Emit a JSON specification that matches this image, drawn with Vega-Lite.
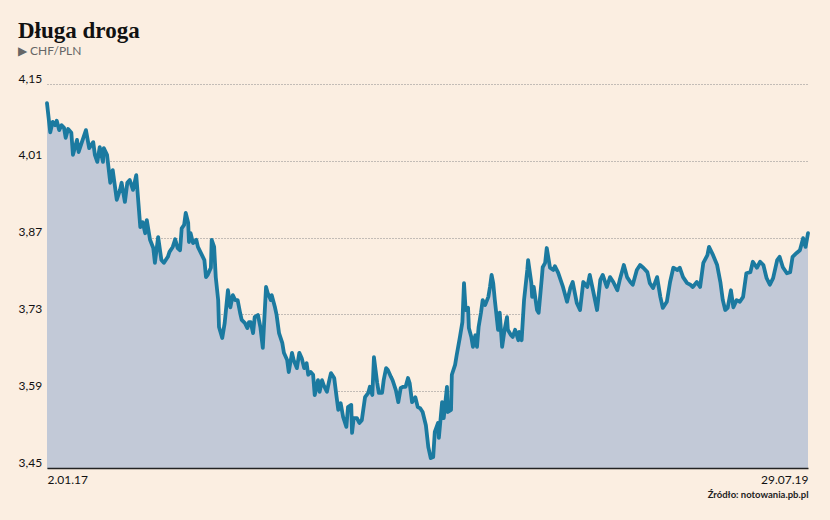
{
  "$schema": "https://vega.github.io/schema/vega-lite/v6.json",
  "width": 761,
  "height": 384,
  "autosize": {"type": "none"},
  "padding": {"left": 47, "top": 84, "right": 22, "bottom": 52},
  "background": "#fbeee1",
  "title": {
    "text": "Długa droga",
    "subtitle": "▶ CHF/PLN",
    "anchor": "start",
    "frame": "bounds",
    "font": "Liberation Serif",
    "fontSize": 23,
    "fontWeight": "bold",
    "color": "#111111",
    "subtitleFont": "Lato",
    "subtitleFontSize": 12,
    "subtitleColor": "#666666",
    "subtitlePadding": 3,
    "offset": 15
  },
  "config": {
    "view": {"stroke": null},
    "axis": {"labelFont": "Lato", "titleFont": "Lato"}
  },
  "data": {
    "values": [
      {"d":"2017-01-02","v":4.115},{"d":"2017-01-06","v":4.062},{"d":"2017-01-09","v":4.081},{"d":"2017-01-12","v":4.075},
      {"d":"2017-01-14","v":4.083},{"d":"2017-01-17","v":4.066},{"d":"2017-01-20","v":4.075},{"d":"2017-01-23","v":4.070},
      {"d":"2017-01-25","v":4.052},{"d":"2017-01-28","v":4.068},{"d":"2017-02-01","v":4.061},{"d":"2017-02-03","v":4.021},
      {"d":"2017-02-08","v":4.048},{"d":"2017-02-10","v":4.026},{"d":"2017-02-14","v":4.044},{"d":"2017-02-19","v":4.066},
      {"d":"2017-02-23","v":4.033},{"d":"2017-02-28","v":4.044},{"d":"2017-03-02","v":4.021},{"d":"2017-03-05","v":4.008},
      {"d":"2017-03-08","v":4.035},{"d":"2017-03-12","v":4.008},{"d":"2017-03-13","v":4.033},{"d":"2017-03-17","v":4.021},
      {"d":"2017-03-21","v":3.970},{"d":"2017-03-24","v":3.993},{"d":"2017-03-29","v":3.939},{"d":"2017-04-02","v":3.957},
      {"d":"2017-04-04","v":3.970},{"d":"2017-04-08","v":3.935},{"d":"2017-04-11","v":3.970},{"d":"2017-04-14","v":3.975},
      {"d":"2017-04-18","v":3.957},{"d":"2017-04-22","v":3.984},{"d":"2017-04-27","v":3.889},{"d":"2017-04-30","v":3.898},
      {"d":"2017-05-03","v":3.878},{"d":"2017-05-05","v":3.902},{"d":"2017-05-09","v":3.866},{"d":"2017-05-13","v":3.851},
      {"d":"2017-05-15","v":3.824},{"d":"2017-05-19","v":3.871},{"d":"2017-05-23","v":3.829},{"d":"2017-05-26","v":3.824},
      {"d":"2017-05-31","v":3.835},{"d":"2017-06-02","v":3.844},{"d":"2017-06-06","v":3.853},{"d":"2017-06-09","v":3.867},
      {"d":"2017-06-12","v":3.851},{"d":"2017-06-15","v":3.847},{"d":"2017-06-17","v":3.887},{"d":"2017-06-20","v":3.893},
      {"d":"2017-06-22","v":3.915},{"d":"2017-06-25","v":3.897},{"d":"2017-06-26","v":3.862},{"d":"2017-06-28","v":3.878},
      {"d":"2017-07-01","v":3.860},{"d":"2017-07-05","v":3.866},{"d":"2017-07-07","v":3.853},{"d":"2017-07-12","v":3.838},
      {"d":"2017-07-15","v":3.829},{"d":"2017-07-17","v":3.798},{"d":"2017-07-19","v":3.802},{"d":"2017-07-23","v":3.815},
      {"d":"2017-07-24","v":3.866},{"d":"2017-07-27","v":3.853},{"d":"2017-07-29","v":3.798},{"d":"2017-08-01","v":3.756},
      {"d":"2017-08-02","v":3.707},{"d":"2017-08-06","v":3.687},{"d":"2017-08-09","v":3.714},{"d":"2017-08-13","v":3.774},
      {"d":"2017-08-16","v":3.743},{"d":"2017-08-19","v":3.765},{"d":"2017-08-22","v":3.756},{"d":"2017-08-25","v":3.756},
      {"d":"2017-08-28","v":3.733},{"d":"2017-08-30","v":3.720},{"d":"2017-09-03","v":3.714},{"d":"2017-09-06","v":3.705},
      {"d":"2017-09-08","v":3.716},{"d":"2017-09-10","v":3.716},{"d":"2017-09-13","v":3.696},{"d":"2017-09-15","v":3.725},
      {"d":"2017-09-19","v":3.729},{"d":"2017-09-22","v":3.707},{"d":"2017-09-25","v":3.669},{"d":"2017-09-29","v":3.780},
      {"d":"2017-10-01","v":3.769},{"d":"2017-10-05","v":3.756},{"d":"2017-10-06","v":3.765},{"d":"2017-10-10","v":3.743},
      {"d":"2017-10-12","v":3.729},{"d":"2017-10-15","v":3.696},{"d":"2017-10-19","v":3.678},{"d":"2017-10-21","v":3.660},
      {"d":"2017-10-25","v":3.647},{"d":"2017-10-27","v":3.625},{"d":"2017-10-31","v":3.660},{"d":"2017-11-02","v":3.647},
      {"d":"2017-11-06","v":3.632},{"d":"2017-11-09","v":3.660},{"d":"2017-11-12","v":3.650},{"d":"2017-11-15","v":3.632},
      {"d":"2017-11-18","v":3.641},{"d":"2017-11-20","v":3.620},{"d":"2017-11-23","v":3.625},{"d":"2017-11-26","v":3.620},
      {"d":"2017-11-28","v":3.583},{"d":"2017-12-02","v":3.610},{"d":"2017-12-04","v":3.589},{"d":"2017-12-07","v":3.610},
      {"d":"2017-12-09","v":3.601},{"d":"2017-12-13","v":3.589},{"d":"2017-12-16","v":3.610},{"d":"2017-12-18","v":3.623},
      {"d":"2017-12-22","v":3.614},{"d":"2017-12-25","v":3.579},{"d":"2017-12-27","v":3.556},{"d":"2017-12-30","v":3.568},
      {"d":"2018-01-02","v":3.543},{"d":"2018-01-06","v":3.525},{"d":"2018-01-08","v":3.561},{"d":"2018-01-12","v":3.565},
      {"d":"2018-01-13","v":3.514},{"d":"2018-01-15","v":3.541},{"d":"2018-01-19","v":3.541},{"d":"2018-01-22","v":3.532},
      {"d":"2018-01-25","v":3.537},{"d":"2018-01-29","v":3.579},{"d":"2018-02-02","v":3.587},{"d":"2018-02-04","v":3.598},
      {"d":"2018-02-07","v":3.583},{"d":"2018-02-09","v":3.652},{"d":"2018-02-13","v":3.605},{"d":"2018-02-15","v":3.587},
      {"d":"2018-02-19","v":3.587},{"d":"2018-02-21","v":3.610},{"d":"2018-02-24","v":3.632},{"d":"2018-02-26","v":3.629},
      {"d":"2018-03-02","v":3.616},{"d":"2018-03-04","v":3.610},{"d":"2018-03-08","v":3.592},{"d":"2018-03-11","v":3.570},
      {"d":"2018-03-14","v":3.596},{"d":"2018-03-17","v":3.598},{"d":"2018-03-20","v":3.598},{"d":"2018-03-23","v":3.614},
      {"d":"2018-03-25","v":3.605},{"d":"2018-03-28","v":3.570},{"d":"2018-04-01","v":3.579},{"d":"2018-04-04","v":3.561},
      {"d":"2018-04-07","v":3.559},{"d":"2018-04-10","v":3.552},{"d":"2018-04-14","v":3.528},{"d":"2018-04-17","v":3.488},
      {"d":"2018-04-20","v":3.468},{"d":"2018-04-23","v":3.470},{"d":"2018-04-25","v":3.516},{"d":"2018-04-29","v":3.532},
      {"d":"2018-04-30","v":3.505},{"d":"2018-05-04","v":3.570},{"d":"2018-05-06","v":3.541},{"d":"2018-05-10","v":3.598},
      {"d":"2018-05-11","v":3.552},{"d":"2018-05-15","v":3.556},{"d":"2018-05-16","v":3.620},{"d":"2018-05-20","v":3.638},
      {"d":"2018-05-22","v":3.656},{"d":"2018-05-26","v":3.689},{"d":"2018-05-29","v":3.716},{"d":"2018-05-31","v":3.787},
      {"d":"2018-06-02","v":3.738},{"d":"2018-06-05","v":3.742},{"d":"2018-06-06","v":3.705},{"d":"2018-06-09","v":3.689},
      {"d":"2018-06-11","v":3.671},{"d":"2018-06-14","v":3.692},{"d":"2018-06-16","v":3.671},{"d":"2018-06-18","v":3.707},
      {"d":"2018-06-21","v":3.734},{"d":"2018-06-23","v":3.756},{"d":"2018-06-26","v":3.747},{"d":"2018-06-30","v":3.762},
      {"d":"2018-07-02","v":3.780},{"d":"2018-07-04","v":3.802},{"d":"2018-07-06","v":3.787},{"d":"2018-07-08","v":3.756},
      {"d":"2018-07-12","v":3.702},{"d":"2018-07-14","v":3.733},{"d":"2018-07-17","v":3.671},{"d":"2018-07-20","v":3.702},
      {"d":"2018-07-23","v":3.725},{"d":"2018-07-24","v":3.702},{"d":"2018-07-28","v":3.692},{"d":"2018-07-30","v":3.689},
      {"d":"2018-08-02","v":3.702},{"d":"2018-08-06","v":3.683},{"d":"2018-08-07","v":3.698},{"d":"2018-08-10","v":3.683},
      {"d":"2018-08-13","v":3.756},{"d":"2018-08-17","v":3.811},{"d":"2018-08-18","v":3.829},{"d":"2018-08-22","v":3.787},
      {"d":"2018-08-23","v":3.762},{"d":"2018-08-25","v":3.780},{"d":"2018-08-29","v":3.738},{"d":"2018-08-31","v":3.733},
      {"d":"2018-09-04","v":3.798},{"d":"2018-09-05","v":3.816},{"d":"2018-09-08","v":3.824},{"d":"2018-09-10","v":3.851},
      {"d":"2018-09-14","v":3.815},{"d":"2018-09-18","v":3.811},{"d":"2018-09-20","v":3.818},{"d":"2018-09-24","v":3.806},
      {"d":"2018-09-30","v":3.780},{"d":"2018-10-05","v":3.753},{"d":"2018-10-09","v":3.778},{"d":"2018-10-12","v":3.789},
      {"d":"2018-10-17","v":3.751},{"d":"2018-10-21","v":3.738},{"d":"2018-10-25","v":3.789},{"d":"2018-10-30","v":3.780},
      {"d":"2018-11-02","v":3.802},{"d":"2018-11-06","v":3.774},{"d":"2018-11-11","v":3.738},{"d":"2018-11-15","v":3.793},
      {"d":"2018-11-18","v":3.802},{"d":"2018-11-23","v":3.780},{"d":"2018-11-27","v":3.798},{"d":"2018-12-01","v":3.789},
      {"d":"2018-12-06","v":3.774},{"d":"2018-12-09","v":3.793},{"d":"2018-12-14","v":3.820},{"d":"2018-12-18","v":3.798},
      {"d":"2018-12-22","v":3.789},{"d":"2018-12-25","v":3.784},{"d":"2018-12-30","v":3.811},{"d":"2019-01-03","v":3.820},
      {"d":"2019-01-07","v":3.815},{"d":"2019-01-12","v":3.807},{"d":"2019-01-15","v":3.787},{"d":"2019-01-19","v":3.778},
      {"d":"2019-01-24","v":3.798},{"d":"2019-01-28","v":3.762},{"d":"2019-01-31","v":3.742},{"d":"2019-02-05","v":3.753},
      {"d":"2019-02-09","v":3.789},{"d":"2019-02-13","v":3.815},{"d":"2019-02-18","v":3.811},{"d":"2019-02-21","v":3.815},
      {"d":"2019-02-25","v":3.798},{"d":"2019-03-02","v":3.787},{"d":"2019-03-06","v":3.784},{"d":"2019-03-09","v":3.780},
      {"d":"2019-03-14","v":3.789},{"d":"2019-03-18","v":3.780},{"d":"2019-03-22","v":3.824},{"d":"2019-03-27","v":3.838},
      {"d":"2019-03-29","v":3.853},{"d":"2019-04-03","v":3.838},{"d":"2019-04-08","v":3.820},{"d":"2019-04-12","v":3.789},
      {"d":"2019-04-15","v":3.756},{"d":"2019-04-18","v":3.738},{"d":"2019-04-21","v":3.742},{"d":"2019-04-25","v":3.774},
      {"d":"2019-04-28","v":3.743},{"d":"2019-05-02","v":3.756},{"d":"2019-05-06","v":3.753},{"d":"2019-05-10","v":3.762},
      {"d":"2019-05-14","v":3.805},{"d":"2019-05-19","v":3.807},{"d":"2019-05-22","v":3.826},{"d":"2019-05-27","v":3.815},
      {"d":"2019-05-31","v":3.826},{"d":"2019-06-04","v":3.820},{"d":"2019-06-08","v":3.796},{"d":"2019-06-12","v":3.784},
      {"d":"2019-06-16","v":3.796},{"d":"2019-06-21","v":3.829},{"d":"2019-06-24","v":3.835},{"d":"2019-06-28","v":3.816},
      {"d":"2019-07-03","v":3.805},{"d":"2019-07-07","v":3.807},{"d":"2019-07-10","v":3.835},{"d":"2019-07-15","v":3.842},
      {"d":"2019-07-19","v":3.847},{"d":"2019-07-23","v":3.869},{"d":"2019-07-26","v":3.853},{"d":"2019-07-29","v":3.878}
    ]
  },
  "encoding": {
    "x": {
      "field": "d",
      "type": "temporal",
      "scale": {"type": "utc", "nice": false},
      "axis": {
        "values": [{"year": 2017, "month": 1, "date": 2, "utc": true}, {"year": 2019, "month": 7, "date": 29, "utc": true}],
        "labelExpr": "utcFormat(datum.value, '%-d.%m.%y')",
        "labelFlush": true,
        "labelFontSize": 12,
        "labelColor": "#111111",
        "labelPadding": 6,
        "ticks": false,
        "grid": false,
        "domainColor": "#222222",
        "domainWidth": 1.5,
        "title": "Źródło: notowania.pb.pl",
        "titleAnchor": "end",
        "titleFontSize": 9.5,
        "titleFontWeight": "bold",
        "titleColor": "#222222",
        "titlePadding": 4,
        "zindex": 1
      }
    },
    "y": {
      "field": "v",
      "type": "quantitative",
      "scale": {"domain": [3.45, 4.15], "nice": false, "zero": false},
      "axis": {
        "values": [3.45, 3.59, 3.73, 3.87, 4.01, 4.15],
        "labelExpr": "replace(format(datum.value, '.2f'), '.', ',')",
        "labelAlign": "left",
        "labelBaseline": "alphabetic",
        "labelPadding": 29,
        "labelOffset": -2,
        "labelFontSize": 12,
        "labelColor": "#111111",
        "ticks": false,
        "domain": false,
        "grid": true,
        "gridColor": "#8a8a8a",
        "gridDash": [1, 2],
        "gridWidth": 1,
        "title": null
      }
    }
  },
  "layer": [
    {
      "mark": {"type": "area", "color": "#c2c9d7", "opacity": 1},
      "encoding": {"y2": {"datum": 3.45}}
    },
    {"mark": {"type": "line", "color": "#1b7aa0", "strokeWidth": 3.8, "strokeJoin": "round", "strokeCap": "round"}}
  ]
}
